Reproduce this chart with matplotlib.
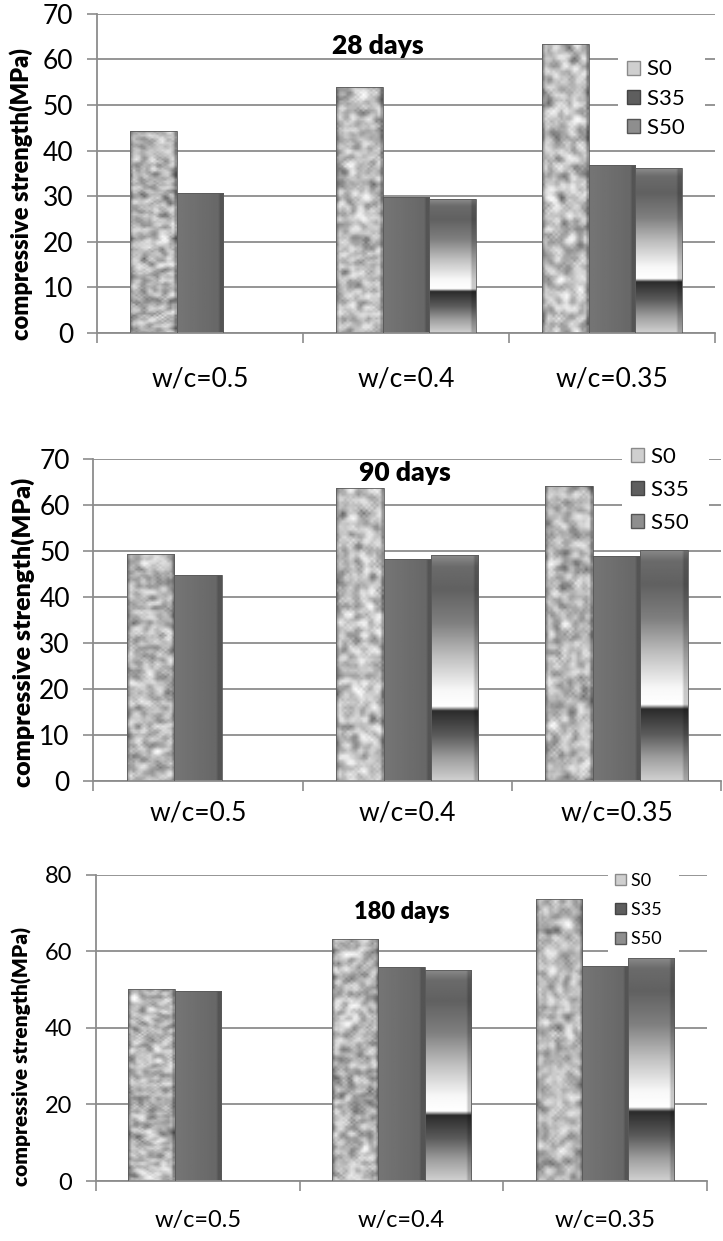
import numpy as np
import matplotlib
matplotlib.use("Agg")
import matplotlib.pyplot as plt
from matplotlib.patches import Patch

plt.rcParams['font.family'] = ['Lato', 'DejaVu Sans']

# data (MPa)
categories = ["w/c=0.5", "w/c=0.4", "w/c=0.35"]
series = ["S0", "S35", "S50"]
titles = ["28 days", "90 days", "180 days"]

s0_28 = [44.3, 53.9, 63.4]
s35_28 = [30.8, 29.9, 36.9]
s50_28 = [None, 29.3, 36.1]

s0_90 = [49.3, 63.6, 64.2]
s35_90 = [44.8, 48.2, 48.8]
s50_90 = [None, 49.1, 50.3]

s0_180 = [50.2, 63.3, 73.7]
s35_180 = [49.6, 55.9, 56.1]
s50_180 = [None, 55.2, 58.3]

GRID = '#8c8c8c'
rng = np.random.default_rng(3)


def granite(h=110, w=18):
    # mottled stone texture used as fill for S0 bars
    t = rng.random((h, w))
    for _ in range(2):
        t = (t + np.roll(t, 1, 0) + np.roll(t, -1, 0) + np.roll(t, 1, 1) + np.roll(t, -1, 1)) / 5
    t = (t - t.min()) / (t.max() - t.min())
    t = 0.40 + 0.60 * t ** 0.8
    edge = np.ones(w)
    edge[0] = 0.75
    edge[-1] = 0.7
    return t * edge


def s35_fill():
    prof = np.linspace(0.46, 0.40, 20)
    prof[-2:] = 0.33
    return np.tile(prof, (40, 1))


def s50_fill():
    f = np.linspace(0, 1, 400)
    stops = [0.0, 0.10, 0.20, 0.31, 0.315, 0.33, 0.40, 0.55, 0.70, 0.85, 0.95, 1.0]
    vals = [0.82, 0.62, 0.36, 0.17, 0.40, 1.0, 0.97, 0.75, 0.50, 0.38, 0.42, 0.55]
    col = np.interp(f, stops, vals)[::-1]
    prof = np.ones(20)
    prof[-2:] = 0.8
    return col[:, None] * prof[None, :]


def draw_panel(ax, s0, s35, s50, title, ymax, ystep, fs, lab_fs, leg_fs,
               xpad, title_xy, ylab_xy, leg_anchor, leg_space):
    x = np.arange(len(categories))
    w = 0.227
    fills = [granite, s35_fill, s50_fill]
    for k, vals in enumerate([s0, s35, s50]):
        for i, v in enumerate(vals):
            if v is None:
                continue
            bar = ax.bar(x[i] + (k - 1) * w, v, width=w, facecolor='none',
                         edgecolor='#5a5a5a', linewidth=0.6, zorder=3)[0]
            x0 = x[i] + (k - 1) * w - w / 2
            im = ax.imshow(fills[k](), cmap='gray', vmin=0, vmax=1, aspect='auto',
                           extent=(x0, x0 + w, 0, v), interpolation='bilinear', zorder=2)
            im.set_clip_path(bar)

    ax.set_xlim(-0.5, 2.5)
    ax.set_ylim(0, ymax)
    ax.set_yticks(np.arange(0, ymax + 1, ystep))
    ax.yaxis.grid(True, color=GRID, linewidth=1.3)
    ax.set_axisbelow(True)

    ax.set_xticks([-0.5, 0.5, 1.5, 2.5])
    ax.set_xticklabels([])
    ax.set_xticks(x, minor=True)
    ax.set_xticklabels(categories, minor=True)
    ax.tick_params(axis='x', which='major', length=7, color=GRID, width=1.2)
    ax.tick_params(axis='x', which='minor', length=0, labelsize=fs, pad=xpad)
    ax.tick_params(axis='y', length=7, color=GRID, width=1.2, labelsize=fs, pad=10)

    for s in ['top', 'right']:
        ax.spines[s].set_visible(False)
    for s in ['left', 'bottom']:
        ax.spines[s].set_color(GRID)
        ax.spines[s].set_linewidth(1.3)

    ax.set_ylabel("compressive strength(MPa)", fontsize=lab_fs, fontweight='heavy')
    ax.yaxis.set_label_coords(*ylab_xy)
    ax.text(title_xy[0], title_xy[1], title, transform=ax.transAxes, ha='center',
            va='center', fontsize=fs, fontweight='heavy')

    handles = [Patch(facecolor='#cfcfcf', edgecolor='#8a8a8a'),
               Patch(facecolor='#5e5e5e', edgecolor='#444444'),
               Patch(facecolor='#8e8e8e', edgecolor='#555555')]
    leg = ax.legend(handles, [s + "  " for s in series], loc='center left',
                    bbox_to_anchor=leg_anchor,
                    borderaxespad=0, borderpad=0.4, frameon=True, fancybox=False,
                    edgecolor='none', framealpha=1, fontsize=leg_fs,
                    handlelength=0.6, handleheight=0.6, handletextpad=0.3,
                    labelspacing=leg_space)
    leg.set_zorder(5)


fig = plt.figure(figsize=(7.23, 12.41), dpi=100)

ax1 = fig.add_axes([0.1342, 0.7317, 0.8548, 0.2571])
draw_panel(ax1, s0_28, s35_28, s50_28, titles[0], 70, 10, 19, 17, 16,
           24, (0.455, 0.90), (-0.104, 0.436), (0.843, 0.734), 0.42)

ax2 = fig.add_axes([0.1293, 0.3707, 0.868, 0.2595])
draw_panel(ax2, s0_90, s35_90, s50_90, titles[1], 70, 10, 19, 18, 16,
           14, (0.496, 0.955), (-0.093, 0.46), (0.842, 0.903), 0.58)

ax3 = fig.add_axes([0.1328, 0.0483, 0.845, 0.247])
draw_panel(ax3, s0_180, s35_180, s50_180, titles[2], 80, 20, 17, 15, 13,
           21, (0.50, 0.879), (-0.105, 0.405), (0.838, 0.884), 0.74)

fig.savefig("out.png", dpi=100)
